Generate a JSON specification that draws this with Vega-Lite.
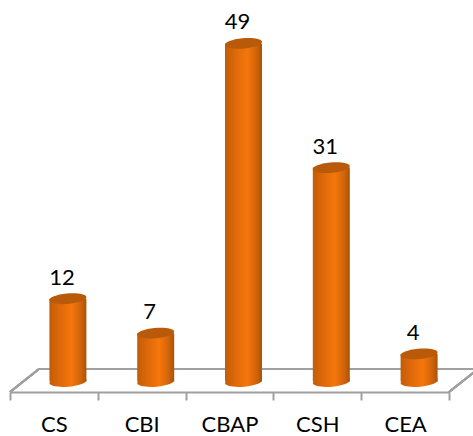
{"$schema":"https://vega.github.io/schema/vega-lite/v6.json","autosize":"none","width":439,"height":392,"padding":{"left":10,"top":0,"right":24,"bottom":44},"background":"white","data":{"values":[{"cat":"CS","value":12},{"cat":"CBI","value":7},{"cat":"CBAP","value":49},{"cat":"CSH","value":31},{"cat":"CEA","value":4}]},"config":{"view":{"stroke":null}},"resolve":{"scale":{"x":"independent"}},"layer":[{"mark":{"type":"rule","color":"#a0a0a0","strokeWidth":2},"encoding":{"x":{"datum":0.33,"type":"quantitative","scale":{"domain":[0,5]},"axis":null},"x2":{"datum":5.33},"y":{"datum":1.81,"type":"quantitative","scale":{"domain":[-1.52,55.29]},"axis":null}}},{"mark":{"type":"rule","color":"#a0a0a0","strokeWidth":2},"encoding":{"x":{"datum":0,"type":"quantitative","scale":{"domain":[0,5]},"axis":null},"x2":{"datum":0.33},"y":{"datum":-1.52,"type":"quantitative","scale":{"domain":[-1.52,55.29]},"axis":null},"y2":{"datum":1.81}}},{"mark":{"type":"rule","color":"#a0a0a0","strokeWidth":2},"encoding":{"x":{"datum":5,"type":"quantitative","scale":{"domain":[0,5]},"axis":null},"x2":{"datum":5.33},"y":{"datum":-1.52,"type":"quantitative","scale":{"domain":[-1.52,55.29]},"axis":null},"y2":{"datum":1.81}}},{"layer":[{"mark":{"type":"point","filled":true,"opacity":1,"xOffset":14,"size":1369,"shape":"M -1 0.1 A 1 0.28 -5 1 1 1 -0.1 A 1 0.28 -5 1 1 -1 0.1 Z","fill":{"gradient":"linear","x1":0,"x2":1,"y1":0,"y2":0,"stops":[{"offset":0,"color":"#c25c08"},{"offset":0.3,"color":"#e06a0a"},{"offset":0.6,"color":"#f5760b"},{"offset":0.85,"color":"#d0640a"},{"offset":1,"color":"#a85308"}]}},"encoding":{"y":{"datum":0,"type":"quantitative"}}},{"mark":{"type":"bar","width":37,"xOffset":14,"fill":{"gradient":"linear","x1":0,"x2":1,"y1":0,"y2":0,"stops":[{"offset":0,"color":"#c25c08"},{"offset":0.3,"color":"#e06a0a"},{"offset":0.6,"color":"#f5760b"},{"offset":0.85,"color":"#d0640a"},{"offset":1,"color":"#a85308"}]}},"encoding":{"y":{"field":"value","type":"quantitative"},"y2":{"datum":0}}},{"mark":{"type":"point","filled":true,"opacity":1,"xOffset":14,"size":1369,"shape":"M -1 0.1 A 1 0.28 -5 1 1 1 -0.1 A 1 0.28 -5 1 1 -1 0.1 Z","fill":"#b85a0a"},"encoding":{"y":{"field":"value","type":"quantitative"}}},{"mark":{"type":"text","font":"Lato","fontSize":22,"color":"#000000","xOffset":8,"dy":-21},"encoding":{"y":{"field":"value","type":"quantitative"},"text":{"field":"value","type":"quantitative"}}}],"encoding":{"x":{"field":"cat","type":"nominal","sort":null,"scale":{"paddingInner":0,"paddingOuter":0},"axis":{"title":null,"labelAngle":0,"labelFont":"Lato","labelFontSize":22,"labelColor":"#000000","labelPadding":14,"tickBand":"extent","tickSize":8,"tickWidth":2,"tickColor":"#a0a0a0","domainColor":"#a0a0a0","domainWidth":2,"grid":false}},"y":{"scale":{"domain":[-1.52,55.29]},"axis":null}}}]}
